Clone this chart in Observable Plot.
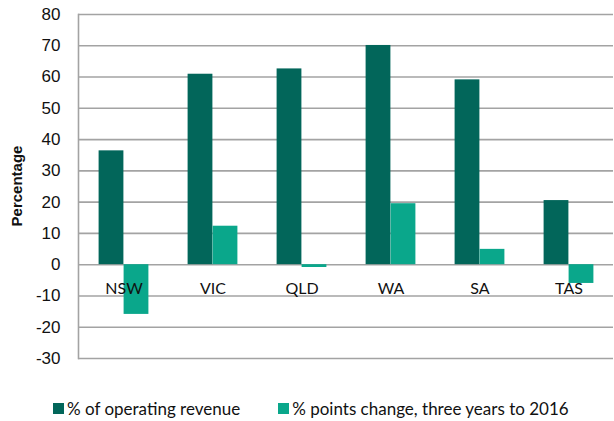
<!DOCTYPE html>
<html>
<head>
<meta charset="utf-8">
<script src="https://cdn.jsdelivr.net/npm/d3@7"></script>
<script src="https://cdn.jsdelivr.net/npm/@observablehq/plot@0.6"></script>
<style>
  body { margin: 0; background: #fff; width: 614px; height: 421px; overflow: hidden; position: relative; }
  #legend { position: absolute; top: 398px; left: 53px; display: flex; align-items: center; font-family: Lato, "Open Sans", sans-serif; font-size: 17px; color: #111; white-space: nowrap; }
  #legend .item { display: flex; align-items: center; }
  #legend .sw { width: 11px; height: 11px; margin-right: 3px; display: inline-block; }
  #ylabel { position: absolute; left: 16px; top: 186px; transform: translate(-50%, -50%) rotate(-90deg); font-family: "Liberation Sans", Arial, sans-serif; font-weight: bold; font-size: 15px; color: #111; white-space: nowrap; }
</style>
</head>
<body>
<div id="chart"></div>
<div id="ylabel">Percentage</div>
<div id="legend"></div>
<script>
const states = ["NSW", "VIC", "QLD", "WA", "SA", "TAS"];
const revenue = [36.4, 60.9, 62.6, 70.1, 59.1, 20.5];
const change = [-15.9, 12.3, -0.9, 19.5, 4.9, -6.0];
const yTicks = [-30, -20, -10, 0, 10, 20, 30, 40, 50, 60, 70, 80];
const seriesNames = ["% of operating revenue", "% points change, three years to 2016"];
const colors = ["#02665a", "#0aa78b"];

const revData = states.map((s, i) => ({state: s, value: revenue[i]}));
const chgData = states.map((s, i) => ({state: s, value: change[i]}));

const chart = Plot.plot({
  width: 614,
  height: 375,
  marginLeft: 78,
  marginRight: 1,
  marginTop: 14,
  marginBottom: 17,
  style: {fontFamily: "'Liberation Sans', Arial, sans-serif", fontSize: "17px", color: "#111", background: "#fff"},
  x: {domain: states, padding: 0, axis: null},
  y: {domain: [-30, 80], ticks: yTicks, label: null},
  marks: [
    Plot.gridY(yTicks, {stroke: "#a3a3a3", strokeOpacity: 1, strokeWidth: 1.6}),
    Plot.barY(revData, {x: "state", y: "value", fill: colors[0], insetLeft: 19.6, insetRight: 44.6}),
    Plot.barY(chgData, {x: "state", y: "value", fill: colors[1], insetLeft: 44.6, insetRight: 19.6}),
    Plot.text(states, {x: d => d, y: () => 0, dy: 24, text: d => d, fontFamily: "Lato, 'Open Sans', sans-serif", fontSize: 16, fill: "#111"}),
    Plot.axisY(yTicks, {tickSize: 0, tickPadding: 18, label: null, tickFormat: d => String(d), fontSize: 17}),
    Plot.frame({anchor: "left", stroke: "#a3a3a3", strokeWidth: 1.6})
  ]
});
document.getElementById("chart").appendChild(chart);

const legend = document.getElementById("legend");
seriesNames.forEach((name, i) => {
  const item = document.createElement("div");
  item.className = "item";
  if (i > 0) item.style.marginLeft = "38px";
  const sw = document.createElement("span");
  sw.className = "sw";
  sw.style.background = colors[i];
  item.appendChild(sw);
  const t = document.createElement("span");
  t.textContent = name;
  item.appendChild(t);
  legend.appendChild(item);
});
</script>
</body>
</html>
